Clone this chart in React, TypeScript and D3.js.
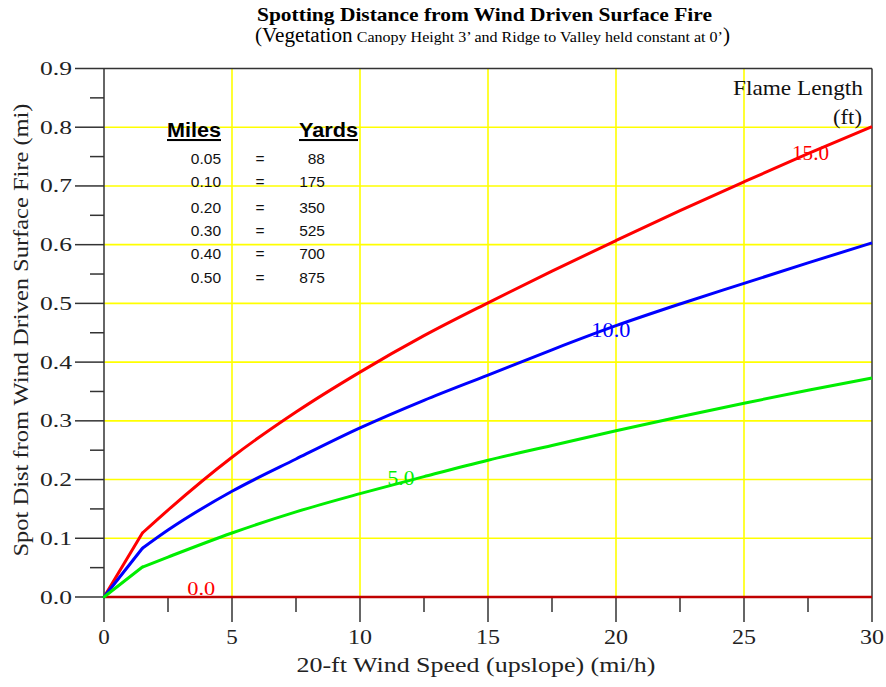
import React from "react";
import * as d3 from "d3";

const windSpeed = [0, 1.5, 2.5, 5, 7.5, 10, 12.5, 15, 17.5, 20, 22.5, 25, 27.5, 30];
const flame15 = [0, 0.109, 0.148, 0.238, 0.315, 0.383, 0.445, 0.501, 0.555, 0.607, 0.658, 0.707, 0.755, 0.801];
const flame10 = [0, 0.083, 0.114, 0.180, 0.235, 0.288, 0.335, 0.378, 0.421, 0.462, 0.499, 0.534, 0.569, 0.603];
const flame5 = [0, 0.051, 0.068, 0.109, 0.145, 0.176, 0.205, 0.233, 0.258, 0.283, 0.307, 0.330, 0.352, 0.373];
const flame0 = [0, 0, 0, 0, 0, 0, 0, 0, 0, 0, 0, 0, 0, 0];

const xTicks = [0, 5, 10, 15, 20, 25, 30];
const xMinor = [2.5, 7.5, 12.5, 17.5, 22.5, 27.5];
const yTicks = [0, 0.1, 0.2, 0.3, 0.4, 0.5, 0.6, 0.7, 0.8, 0.9];
const yMinor = [0.05, 0.15, 0.25, 0.35, 0.45, 0.55, 0.65, 0.75, 0.85];

const tableMiles = ["0.05", "0.10", "0.20", "0.30", "0.40", "0.50"];
const tableYards = ["88", "175", "350", "525", "700", "875"];

const series = [
  { name: "15.0", values: flame15, color: "#ff0000", labelX: 27.6, labelY: 0.744, w: 37 },
  { name: "10.0", values: flame10, color: "#0000ff", labelX: 19.8, labelY: 0.443, w: 39 },
  { name: "5.0", values: flame5, color: "#00ee00", labelX: 11.6, labelY: 0.191, w: 27 },
];

const SERIF = "'Liberation Serif', 'Times New Roman', serif";
const SANS = "'Liberation Sans', Arial, sans-serif";

export default function App() {
  const W = 886, H = 687;
  const x = d3.scaleLinear().domain([0, 30]).range([104, 872]);
  const y = d3.scaleLinear().domain([0, 0.9]).range([597, 68.5]);
  const straight = d3.line<number>().x((_, i) => x(windSpeed[i])).y((d) => y(d));
  const smooth = d3
    .line<number>()
    .x((_, i) => x(windSpeed[i + 1]))
    .y((d) => y(d))
    .curve(d3.curveMonotoneX);
  const axisColor = "#333333";
  const rowY = [164, 187, 213, 236, 259, 283];

  return (
    <svg width={W} height={H} style={{ position: "absolute", left: 0, top: 0, background: "#fff" }}>
      <rect x={0} y={0} width={W} height={H} fill="#fff" />
      {/* titles */}
      <text x={484.5} y={21} textAnchor="middle" fontFamily={SERIF} fontWeight="bold" fontSize={19.5}
        textLength={455} lengthAdjust="spacingAndGlyphs">
        Spotting Distance from Wind Driven Surface Fire
      </text>
      <text x={492.5} y={42} textAnchor="middle" fontFamily={SERIF} fontSize={15.5}
        textLength={475} lengthAdjust="spacingAndGlyphs">
        <tspan fontSize={20.5}>(Vegetation</tspan> Canopy Height 3’ and Ridge to Valley held constant at 0’<tspan fontSize={20.5}>)</tspan>
      </text>

      {/* grid */}
      {yTicks.filter((t) => t > 0 && t < 0.9).map((t) => (
        <line key={"gy" + t} x1={x(0)} x2={x(30)} y1={y(t)} y2={y(t)} stroke="#ffff00" strokeWidth={1.6} />
      ))}
      {xTicks.filter((t) => t > 0 && t < 30).map((t) => (
        <line key={"gx" + t} x1={x(t)} x2={x(t)} y1={y(0)} y2={y(0.9)} stroke="#ffff00" strokeWidth={1.6} />
      ))}

      {/* frame and ticks */}
      <line x1={x(0)} x2={x(0)} y1={y(0.9)} y2={y(0) + 25} stroke={axisColor} strokeWidth={1.5} />
      <line x1={x(30)} x2={x(30)} y1={y(0.9)} y2={y(0) + 25} stroke={axisColor} strokeWidth={1.5} />
      <line x1={x(0) - 29} x2={x(30)} y1={y(0.9)} y2={y(0.9)} stroke={axisColor} strokeWidth={1.5} />
      <line x1={x(0) - 29} x2={x(30)} y1={y(0)} y2={y(0)} stroke={axisColor} strokeWidth={1.5} />
      {yTicks.filter((t) => t > 0 && t < 0.9).map((t) => (
        <line key={"ty" + t} x1={x(0) - 29} x2={x(0)} y1={y(t)} y2={y(t)} stroke={axisColor} strokeWidth={1.5} />
      ))}
      {yMinor.map((t) => (
        <line key={"my" + t} x1={x(0) - 14} x2={x(0)} y1={y(t)} y2={y(t)} stroke={axisColor} strokeWidth={1.5} />
      ))}
      {xTicks.filter((t) => t > 0 && t < 30).map((t) => (
        <line key={"tx" + t} x1={x(t)} x2={x(t)} y1={y(0)} y2={y(0) + 25} stroke={axisColor} strokeWidth={1.5} />
      ))}
      {xMinor.map((t) => (
        <line key={"mx" + t} x1={x(t)} x2={x(t)} y1={y(0)} y2={y(0) + 15} stroke={axisColor} strokeWidth={1.5} />
      ))}

      {/* tick labels */}
      {yTicks.map((t) => (
        <text key={"ly" + t} x={72} y={y(t) + 6.5} textAnchor="end" fontFamily={SERIF} fontSize={19.5} fill="#222"
          textLength={32} lengthAdjust="spacingAndGlyphs">
          {t.toFixed(1)}
        </text>
      ))}
      {xTicks.map((t) => (
        <text key={"lx" + t} x={x(t)} y={644} textAnchor="middle" fontFamily={SERIF} fontSize={21} fill="#222"
          textLength={t >= 10 ? 24 : 11.5} lengthAdjust="spacingAndGlyphs">
          {t}
        </text>
      ))}

      {/* axis titles */}
      <text x={476} y={672} textAnchor="middle" fontFamily={SERIF} fontSize={21} fill="#222"
        textLength={359} lengthAdjust="spacingAndGlyphs">
        20-ft Wind Speed (upslope) (mi/h)
      </text>
      <text transform={`translate(28,330) rotate(-90)`} textAnchor="middle" fontFamily={SERIF} fontSize={20.5} fill="#222"
        textLength={453} lengthAdjust="spacingAndGlyphs">
        Spot Dist from Wind Driven Surface Fire (mi)
      </text>

      {/* zero line */}
      <path d={straight(flame0) || ""} fill="none" stroke="#c00000" strokeWidth={2.5} />
      <text x={x(3.8)} y={595} textAnchor="middle" fontFamily={SERIF} fontSize={19} fill="#ff0000"
        textLength={28} lengthAdjust="spacingAndGlyphs">0.0</text>

      {/* series */}
      {series.map((s) => (
        <g key={s.name}>
          <path d={straight(s.values.slice(0, 2)) || ""} fill="none" stroke={s.color} strokeWidth={3} strokeLinecap="round" />
          <path d={smooth(s.values.slice(1)) || ""} fill="none" stroke={s.color} strokeWidth={3} strokeLinejoin="round" />
          <text x={x(s.labelX)} y={y(s.labelY)} textAnchor="middle" fontFamily={SERIF} fontSize={20} fill={s.color}
            textLength={s.w} lengthAdjust="spacingAndGlyphs">
            {s.name}
          </text>
        </g>
      ))}

      {/* legend title */}
      <text x={863} y={95} textAnchor="end" fontFamily={SERIF} fontSize={21} fill="#111"
        textLength={130} lengthAdjust="spacingAndGlyphs">Flame Length</text>
      <text x={862} y={124} textAnchor="end" fontFamily={SERIF} fontSize={21} fill="#111"
        textLength={29} lengthAdjust="spacingAndGlyphs">(ft)</text>

      {/* conversion table */}
      <text x={221} y={137} textAnchor="end" fontFamily={SANS} fontWeight="bold" fontSize={20.5} textDecoration="underline"
        textLength={54} lengthAdjust="spacingAndGlyphs">Miles</text>
      <text x={358} y={137} textAnchor="end" fontFamily={SANS} fontWeight="bold" fontSize={20.5} textDecoration="underline"
        textLength={59} lengthAdjust="spacingAndGlyphs">Yards</text>
      {tableMiles.map((m, i) => (
        <g key={"row" + i} fontFamily={SANS} fontSize={15.5} fill="#111">
          <text x={221} y={rowY[i]} textAnchor="end">{m}</text>
          <text x={260} y={rowY[i]} textAnchor="middle">=</text>
          <text x={325} y={rowY[i]} textAnchor="end">{tableYards[i]}</text>
        </g>
      ))}
    </svg>
  );
}
